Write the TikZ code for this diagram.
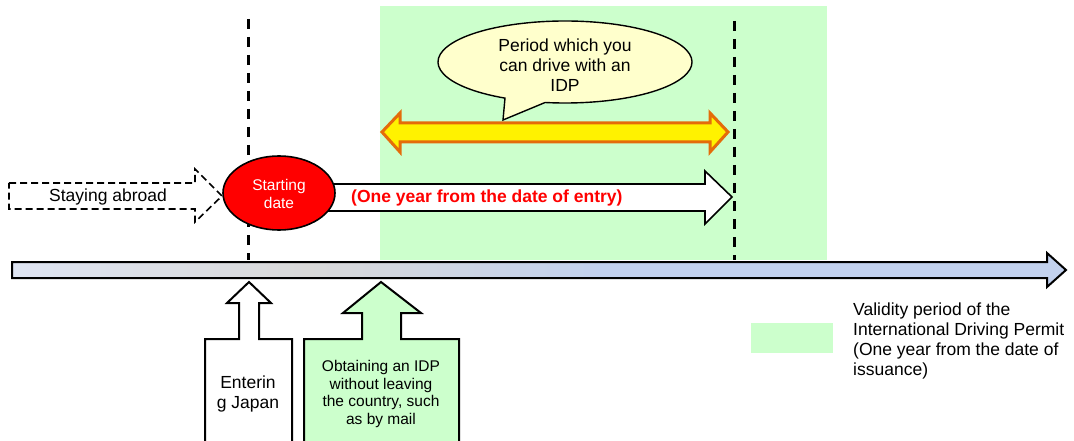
\documentclass[tikz,border=0pt]{standalone}
\usepackage{fontspec}
\setmainfont{Liberation Sans}
\usetikzlibrary{calc}
\definecolor{validgreen}{HTML}{CCFFCC}
\definecolor{bubblefill}{HTML}{FFFFCC}
\definecolor{orangeedge}{HTML}{E46C0A}
\definecolor{tlleft}{HTML}{DEE4F2}
\definecolor{tlmid}{HTML}{D9D9D9}
\definecolor{tlright}{HTML}{C2D1EE}
\pgfdeclarehorizontalshading{timelineshade}{100bp}{color(0bp)=(tlleft); color(25bp)=(tlleft); color(39bp)=(tlmid); color(53bp)=(tlright); color(100bp)=(tlright)}
\tikzset{
  bigtext/.style={font=\fontsize{17.5}{20}\selectfont, inner sep=0pt, align=center},
  smalltext/.style={font=\fontsize{15.5}{17.8}\selectfont, inner sep=0pt, align=center},
  vdashline/.style={line width=3pt, dash pattern=on 10pt off 8pt},
  outline/.style={draw=black, line width=1.6pt, line join=miter},
}
\begin{document}
\begin{tikzpicture}[x=1pt, y=-1pt]
\useasboundingbox (0,0) rectangle (1074,441);
% validity period area
\fill[validgreen] (380,6) rectangle (827,260);
% timeline
\draw[outline, line width=2pt, shading=timelineshade]
  (12,262) -- (1047,262) -- (1047,253) -- (1066,270) -- (1047,287) -- (1047,278) -- (12,278) -- cycle;
% staying abroad dashed arrow
\draw[line width=1.6pt, dash pattern=on 7pt off 4pt, fill=white]
  (9,183) -- (195,183) -- (195,169) -- (222,196) -- (195,222) -- (195,209) -- (9,209) -- cycle;
\node[bigtext] (abroad) at (108,197) {Staying abroad};
% one year arrow
\draw[outline, fill=white]
  (300,184) -- (705,184) -- (705,171) -- (732,197) -- (705,224) -- (705,211) -- (300,211) -- cycle;
\node[bigtext, anchor=west, text=red, font=\fontsize{17.5}{20}\selectfont\bfseries] (oneyear) at (351,198) {(One year from the date of entry)};
% dashed vertical lines
\draw[vdashline] (248,19) -- (248,260);
\draw[vdashline] (734,21) -- (734,260);
% starting date ellipse
\draw[outline, fill=red] (279,193) ellipse [x radius=56pt, y radius=37pt];
\node[smalltext, text=white] (start) at (279,194) {Starting\\date};
% yellow double arrow
\draw[draw=orangeedge, fill=yellow, line width=3pt, line join=miter]
  (382,132) -- (400,113) -- (400,123) -- (710,123) -- (710,113) -- (728,132) -- (710,152) -- (710,142) -- (400,142) -- (400,152) -- cycle;
% speech bubble
\draw[outline, line width=1.4pt, fill=bubblefill]
  ($(565,62)+(-99:127pt and 41pt)$) -- (503,120) -- ($(565,62)+(241.8:127pt and 41pt)$)
  arc[start angle=241.8, end angle=-99, x radius=127pt, y radius=41pt] -- cycle;
\node[bigtext] (bubbletext) at (565,65) {Period which you\\can drive with an\\IDP};
% entering Japan arrow
\draw[outline, line width=2pt, fill=white]
  (205,445) -- (205,339) -- (239,339) -- (239,303) -- (227,303) -- (249,282) -- (271,303) -- (259,303) -- (259,339) -- (292,339) -- (292,445);
\node[bigtext] (entering) at (248,394) {Enterin\\g Japan};
% obtaining IDP arrow
\draw[outline, line width=2pt, fill=validgreen]
  (304,445) -- (304,339) -- (362,339) -- (362,313) -- (343,313) -- (381,282) -- (421,313) -- (401,313) -- (401,339) -- (459,339) -- (459,445);
\node[smalltext] (obtaining) at (381,394) {Obtaining an IDP\\without leaving\\the country, such\\as by mail};
% legend
\fill[validgreen] (751,323) rectangle (833,353);
\node[bigtext, anchor=west, align=left] (legend) at (853,341) {Validity period of the\\International Driving Permit\\(One year from the date of\\issuance)};
\end{tikzpicture}
\end{document}
